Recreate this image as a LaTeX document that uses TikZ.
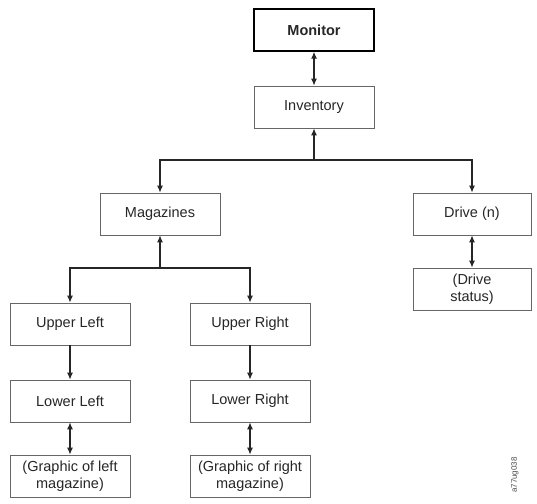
\documentclass[tikz,border=0pt]{standalone}
\usepackage{fontspec}
\setmainfont{Liberation Sans}
\usetikzlibrary{arrows.meta}

\begin{document}
\begin{tikzpicture}[x=1pt,y=-1pt,
    box/.style={draw=black!60,line width=0.7pt,minimum width=120pt,minimum height=42pt,
      align=center,font=\fontsize{14.5}{17}\selectfont,text=black!85},
    topbox/.style={box,draw=black,line width=1.4pt,font=\fontsize{14.5}{17}\selectfont\bfseries},
    link/.style={line width=1.2pt,black!85,-{Latex[length=7pt,width=6pt]}},
    both/.style={line width=1.2pt,black!85,{Latex[length=7pt,width=6pt]}-{Latex[length=7pt,width=6pt]}}]
    \useasboundingbox (0,0) rectangle (537,503);

    % the boxes
    \node[topbox] (monitor) at (314,30) {Monitor};
    \node[box] (inventory) at (314,107) {Inventory};
    \node[box] (magazines) at (160,214) {Magazines};
    \node[box,minimum width=118pt] (drive) at (472,214) {Drive (n)};
    \node[box,minimum width=118pt] (drivestatus) at (472,289) {(Drive\\status)};
    \node[box] (upperleft) at (70,324) {Upper Left};
    \node[box] (upperright) at (250,324) {Upper Right};
    \node[box] (lowerleft) at (70,401) {Lower Left};
    \node[box] (lowerright) at (250,401) {Lower Right};
    \node[box] (graphicleft) at (70,476) {(Graphic of left\\magazine)};
    \node[box] (graphicright) at (250,476) {(Graphic of right\\magazine)};

    % the links
    \coordinate (split1) at (314,160);
    \coordinate (split2) at (160,268);
    \draw[both] (monitor) -- (inventory);
    \draw[link] (split1) -- (inventory);
    \draw[link] (split1) -| (magazines);
    \draw[link] (split1) -| (drive);
    \draw[both] (drive) -- (drivestatus);
    \draw[link] (split2) -- (magazines);
    \draw[link] (split2) -| (upperleft);
    \draw[link] (split2) -| (upperright);
    \draw[link] (upperleft) -- (lowerleft);
    \draw[link] (upperright) -- (lowerright);
    \draw[both] (lowerleft) -- (graphicleft);
    \draw[both] (lowerright) -- (graphicright);

    % figure id
    \node[rotate=90,font=\fontsize{8}{9}\selectfont,text=black!70] (figid) at (515,475) {a77ug038};
\end{tikzpicture}
\end{document}
